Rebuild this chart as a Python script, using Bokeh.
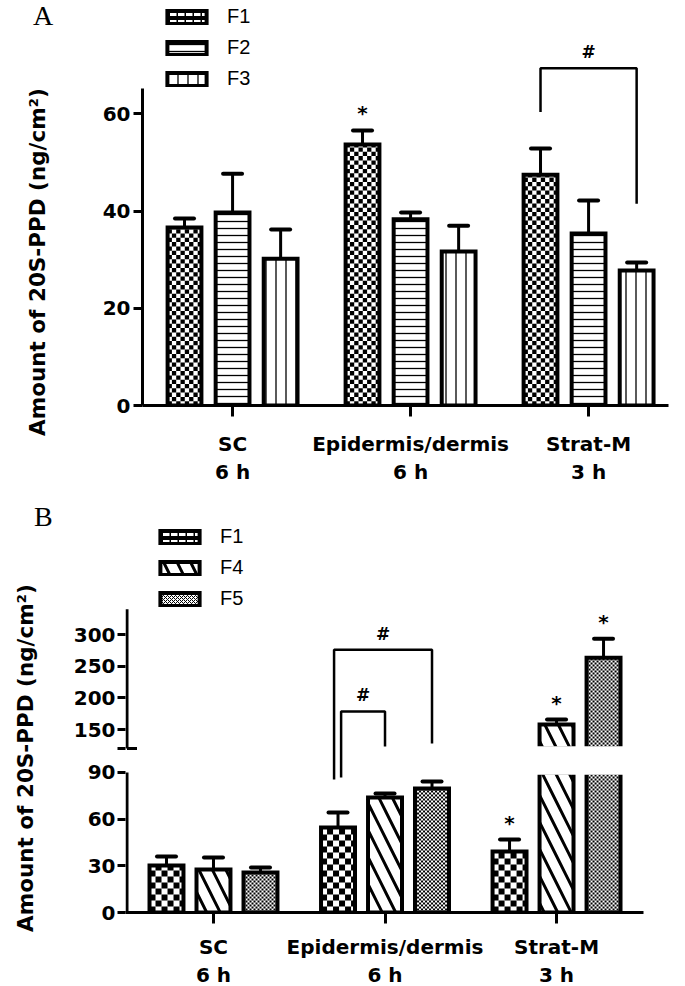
import math
from bokeh.plotting import figure
from bokeh.models import (ColumnDataSource, FixedTicker, Whisker, TeeHead, Legend, LegendItem,
                          Range1d, CustomJSTickFormatter, Div)
from bokeh.embed import file_html
from bokeh.resources import INLINE
from bokeh.core.properties import value

# ----------------------------- data -----------------------------
group_labels = ["SC\n6 h", "Epidermis/dermis\n6 h", "Strat-M\n3 h"]
group_pos = [0, 1, 2]

# Panel A
a_names = ["F1", "F2", "F3"]
a_F1 = [36.6, 53.7, 47.5]
a_F1_err = [1.9, 2.9, 5.4]
a_F2 = [39.7, 38.3, 35.4]
a_F2_err = [8.0, 1.4, 6.8]
a_F3 = [30.2, 31.7, 27.8]
a_F3_err = [6.0, 5.3, 1.6]
a_yticks = [0, 20, 40, 60]
a_star_F1 = [False, True, False]
# bracket: group, bar from, bar to, top, left leg bottom, right leg bottom
a_brackets = [(2, 0, 2, 69.4, 60.4, 41.5)]

# Panel B
b_names = ["F1", "F4", "F5"]
b_F1 = [30.2, 54.6, 39.2]
b_F1_err = [5.8, 9.7, 7.7]
b_F4 = [27.6, 73.9, 157.9]
b_F4_err = [7.7, 2.6, 7.8]
b_F5 = [25.7, 79.7, 263.5]
b_F5_err = [3.2, 4.5, 30.0]
b_yticks = [0, 30, 60, 90, 150, 200, 250, 300]
b_stars = [[False, False, True], [False, False, True], [False, False, True]]
b_brackets = [(1, 0, 2, 276.0, 85.5, 128.0), (1, 0, 1, 178.5, 86.8, 123.0)]

# ----------------------------- style / geometry -----------------------------
FONT = "DejaVu Sans"
LEG_FONT = "Liberation Sans"
SERIF = "Liberation Serif"
BLACK = "#000000"
YLABEL = "Amount of 20S-PPD (ng/cm\u00b2)"

A_PX_X, A_PX_Y = 178.0, 4.86          # pixels per data unit
A_X_RANGE = (-0.506, 2.449)
A_Y_RANGE = (0, 83.33)
A_AXIS_TOP = 65.2
A_BAR_STEP = 0.27
A_BAR_W = 0.19

B_PX_X, B_PX_Y = 171.5, 1.5556
B_X_RANGE = (-0.513, 2.507)
B_Y_RANGE = (0, 264.8)
B_BAR_STEP = 0.274
B_BAR_W = 0.198
B_LOW_MAX, B_HIGH_MIN, B_HIGH_MAX = 90, 120, 340
B_GAP, B_HIGH_SCALE = 15.4, 0.407
B_BRACKET_NUDGE = [-0.023, 0.018]


def brk(v):
    """map a data value to the broken-axis display coordinate of panel B"""
    if v <= B_LOW_MAX:
        return v
    return B_LOW_MAX + B_GAP + (v - B_HIGH_MIN) * B_HIGH_SCALE


def style_common(p):
    p.grid.visible = False
    p.outline_line_color = None
    p.background_fill_color = "white"
    p.border_fill_color = "white"


def style_axis(ax, tick_out, standoff):
    ax.axis_line_width = 3
    ax.axis_line_color = BLACK
    ax.major_tick_line_width = 3
    ax.major_tick_line_color = BLACK
    ax.major_tick_in = 0
    ax.major_tick_out = tick_out
    ax.minor_tick_line_color = None
    ax.major_label_standoff = standoff
    ax.major_label_text_font = FONT
    ax.major_label_text_font_style = "bold"
    ax.major_label_text_font_size = "20px"
    ax.major_label_text_color = BLACK


def style_xaxis(p, standoff):
    ax = p.xaxis[0]
    ax.ticker = FixedTicker(ticks=group_pos)
    ax.major_label_overrides = {g: lab for g, lab in zip(group_pos, group_labels)}
    style_axis(ax, 11, standoff)


def add_err(p, xs, vals, errs, tf=lambda v: v):
    src = ColumnDataSource(dict(x=xs, lo=[tf(v) for v in vals],
                                hi=[tf(v + e) for v, e in zip(vals, errs)]))
    w = Whisker(source=src, base="x", lower="lo", upper="hi", dimension="height",
                line_color=BLACK, line_width=3,
                upper_head=TeeHead(size=19, line_width=4, line_color=BLACK, line_cap="round"),
                lower_head=None)
    p.add_layout(w)


def add_mark(p, x, y, sym, off, size="17px"):
    p.text(x=[x], y=[y], text=[sym], y_offset=off, text_align="center",
           text_baseline="middle", text_font=value(FONT), text_font_style="bold",
           text_font_size=size, text_color=BLACK)


def checker_cells(xc, w, y0, y1, cx, cy):
    """black cells of a checkerboard clipped to one bar"""
    L, R, B, T = [], [], [], []
    x0, x1 = xc - w / 2, xc + w / 2
    nx = int(math.ceil((x1 - x0) / cx - 1e-9))
    ny = int(math.ceil((y1 - y0) / cy - 1e-9))
    for i in range(ny):
        for j in range(nx):
            if (i + j) % 2:
                continue
            L.append(x0 + j * cx)
            R.append(min(x0 + (j + 1) * cx, x1))
            B.append(y0 + i * cy)
            T.append(min(y0 + (i + 1) * cy, y1))
    return L, R, B, T


def checker_bars(p, xs, bottoms, tops, w, cell_px, px_x, px_y):
    """white bar, black checker cells, then the black outline"""
    p.vbar(x=xs, top=tops, bottom=bottoms, width=w, fill_color="white", line_color=None)
    L, R, B, T = [], [], [], []
    for x, b, t in zip(xs, bottoms, tops):
        l, r, bb, tt = checker_cells(x, w, b, t, cell_px / px_x, cell_px / px_y)
        L += l; R += r; B += bb; T += tt
    p.quad(left=L, right=R, bottom=B, top=T, fill_color=BLACK, line_color=None)
    p.vbar(x=xs, top=tops, bottom=bottoms, width=w, fill_color=None, line_color=BLACK,
           line_width=4, line_join="miter")


def legend_proxy(p, xs, tops, w, **kw):
    """hidden copy of the bars, only used for its legend swatch"""
    return p.vbar(x=xs, top=tops, bottom=0, width=w, line_color=BLACK, line_width=4,
                  line_join="miter", visible=False, **kw)


SWATCH_F1 = dict(fill_color=BLACK, hatch_color="white", hatch_pattern="horizontal_dash",
                 hatch_scale=8, hatch_weight=4)
SWATCH_F5 = dict(fill_color="white", hatch_color=BLACK, hatch_pattern="diagonal_cross",
                 hatch_scale=4, hatch_weight=1)


def make_legend(renderers, names, loc):
    leg = Legend(items=[LegendItem(label=n, renderers=[r]) for n, r in zip(names, renderers)],
                 location=loc, orientation="vertical")
    leg.glyph_width = 49
    leg.glyph_height = 16
    leg.label_standoff = 16
    leg.label_text_font = LEG_FONT
    leg.label_text_font_size = "20px"
    leg.label_text_color = BLACK
    leg.spacing = 8
    leg.padding = 0
    leg.margin = 0
    leg.border_line_color = None
    leg.background_fill_alpha = 0
    leg.inactive_fill_alpha = 0
    return leg


def panel_letter(text, left, top):
    return Div(text=text, width=30, height=30,
               styles={"position": "absolute", "left": f"{left}px", "top": f"{top}px",
                       "font-family": SERIF, "font-size": "28px", "line-height": "1",
                       "color": "black", "margin": "0", "padding": "0"})


def y_title(cx, cy, length=380, thick=28):
    return Div(text=YLABEL, width=length, height=thick,
               styles={"position": "absolute", "left": f"{cx - length / 2}px",
                       "top": f"{cy - thick / 2}px", "transform": "rotate(-90deg)",
                       "transform-origin": "50% 50%", "font-family": FONT,
                       "font-weight": "bold", "font-size": "21.5px",
                       "line-height": f"{thick}px", "text-align": "center",
                       "white-space": "nowrap", "color": "black",
                       "margin": "0", "padding": "0"})


# ----------------------------- panel A -----------------------------
pA = figure(frame_width=526, frame_height=405, min_border_left=142, min_border_right=16,
            min_border_top=0, min_border_bottom=74,
            x_range=Range1d(*A_X_RANGE), y_range=Range1d(*A_Y_RANGE),
            output_backend="svg", toolbar_location=None)
style_common(pA)
style_xaxis(pA, 15)
ay = pA.yaxis[0]
ay.ticker = FixedTicker(ticks=a_yticks)
ay.bounds = (0, A_AXIS_TOP)
style_axis(ay, 9, 3)

a_vals = [a_F1, a_F2, a_F3]
a_errs = [a_F1_err, a_F2_err, a_F3_err]
a_rend = []
for i, (vals, errs) in enumerate(zip(a_vals, a_errs)):
    xs = [g + (i - 1) * A_BAR_STEP for g in group_pos]
    add_err(pA, xs, vals, errs)
    if i == 0:
        checker_bars(pA, xs, [0] * len(vals), vals, A_BAR_W, 4.3, A_PX_X, A_PX_Y)
        a_rend.append(legend_proxy(pA, xs, vals, A_BAR_W, **SWATCH_F1))
    else:
        hk = dict(hatch_color=BLACK, hatch_scale=7 if i == 1 else 10, hatch_weight=1.3,
                  hatch_pattern="horizontal_line" if i == 1 else "vertical_line")
        a_rend.append(pA.vbar(x=xs, top=vals, bottom=0, width=A_BAR_W, fill_color="white",
                              line_color=BLACK, line_width=4, line_join="miter", **hk))

for g, star in zip(group_pos, a_star_F1):
    if star:
        add_mark(pA, g - A_BAR_STEP, a_F1[g] + a_F1_err[g], "*", -17, "20px")

for (g, b0, b1, top, lb, rb) in a_brackets:
    xl = g + (b0 - 1) * A_BAR_STEP
    xr = g + (b1 - 1) * A_BAR_STEP
    pA.multi_line(xs=[[xl, xl, xr, xr]], ys=[[lb, top, top, rb]], line_color=BLACK, line_width=2.5)
    add_mark(pA, (xl + xr) / 2, top, "#", -16)

pA.add_layout(make_legend(a_rend, a_names, (20, 315)))

# ----------------------------- panel B -----------------------------
pB = figure(frame_width=518, frame_height=412, min_border_left=125, min_border_right=41,
            min_border_top=13, min_border_bottom=70,
            x_range=Range1d(*B_X_RANGE), y_range=Range1d(*B_Y_RANGE),
            output_backend="svg", toolbar_location=None)
style_common(pB)
style_xaxis(pB, 11)
by = pB.yaxis[0]
by.ticker = FixedTicker(ticks=[brk(v) for v in b_yticks] + [brk(B_HIGH_MIN)])
by.formatter = CustomJSTickFormatter(
    args=dict(lo=B_LOW_MAX, hi=B_HIGH_MIN, gap=B_GAP, k=B_HIGH_SCALE),
    code="""
if (tick <= lo + 1e-6) { return tick.toFixed(0); }
const v = hi + (tick - lo - gap) / k;
if (Math.abs(v - hi) < 0.5) { return ""; }
return v.toFixed(0);
""")
style_axis(by, 8, 2)
by.axis_line_color = None

b_vals = [b_F1, b_F4, b_F5]
b_errs = [b_F1_err, b_F4_err, b_F5_err]
b_cell = [6.0, None, 2.0]
b_swatch = [SWATCH_F1, None, SWATCH_F5]
b_rend = []
for i, (vals, errs) in enumerate(zip(b_vals, b_errs)):
    xs = [g + (i - 1) * B_BAR_STEP for g in group_pos]
    add_err(pB, xs, vals, errs, brk)
    lows = [min(v, B_LOW_MAX) for v in vals]
    hx = [x for x, v in zip(xs, vals) if v > B_HIGH_MIN]
    hv = [brk(v) for v in vals if v > B_HIGH_MIN]
    if b_cell[i] is not None:
        checker_bars(pB, xs, [0] * len(vals), lows, B_BAR_W, b_cell[i], B_PX_X, B_PX_Y)
        if hx:
            checker_bars(pB, hx, [brk(B_HIGH_MIN)] * len(hx), hv, B_BAR_W, b_cell[i], B_PX_X, B_PX_Y)
        b_rend.append(legend_proxy(pB, xs, lows, B_BAR_W, **b_swatch[i]))
    else:
        hk = dict(hatch_color=BLACK, hatch_scale=27, hatch_weight=3,
                  hatch_pattern="left_diagonal_line")
        b_rend.append(pB.vbar(x=xs, top=lows, bottom=0, width=B_BAR_W, fill_color="white",
                              line_color=BLACK, line_width=4, line_join="miter", **hk))
        if hx:
            pB.vbar(x=hx, top=hv, bottom=brk(B_HIGH_MIN), width=B_BAR_W, fill_color="white",
                    line_color=BLACK, line_width=4, line_join="miter", **hk)

# white gap of the broken axis
pB.quad(left=[B_X_RANGE[0]], right=[B_X_RANGE[1]], bottom=[B_LOW_MAX - 2.2 / B_PX_Y],
        top=[brk(B_HIGH_MIN) + 2.2 / B_PX_Y], fill_color="white", line_color=None)

# broken y-axis line
ax_x = B_X_RANGE[0] + 1.5 / B_PX_X
pB.segment(x0=[ax_x, ax_x], y0=[0, brk(B_HIGH_MIN)], x1=[ax_x, ax_x],
           y1=[B_LOW_MAX, brk(B_HIGH_MAX)], line_color=BLACK, line_width=3)
pB.segment(x0=[ax_x], y0=[brk(B_HIGH_MIN)], x1=[ax_x + 10 / B_PX_X],
           y1=[brk(B_HIGH_MIN)], line_color=BLACK, line_width=3)

for i, (vals, errs) in enumerate(zip(b_vals, b_errs)):
    for g in group_pos:
        if b_stars[i][g]:
            add_mark(pB, g + (i - 1) * B_BAR_STEP, brk(vals[g] + errs[g]), "*", -17, "20px")

for k, (g, b0, b1, top, lb, rb) in enumerate(b_brackets):
    xl = g + (b0 - 1) * B_BAR_STEP + B_BRACKET_NUDGE[k]
    xr = g + (b1 - 1) * B_BAR_STEP
    pB.multi_line(xs=[[xl, xl, xr, xr]], ys=[[brk(lb), brk(top), brk(top), brk(rb)]],
                  line_color=BLACK, line_width=2.5)
    add_mark(pB, (xl + xr) / 2, brk(top), "#", -16)

pB.add_layout(make_legend(b_rend, b_names, (30, 302)))

letter_A = panel_letter("A", 33, 2)
letter_B = panel_letter("B", 34, 503)
ytitle_A = y_title(38, 262)
ytitle_B = y_title(26, 758)

open("out.html", "w").write(file_html([pA, pB, letter_A, letter_B, ytitle_A, ytitle_B], INLINE))
